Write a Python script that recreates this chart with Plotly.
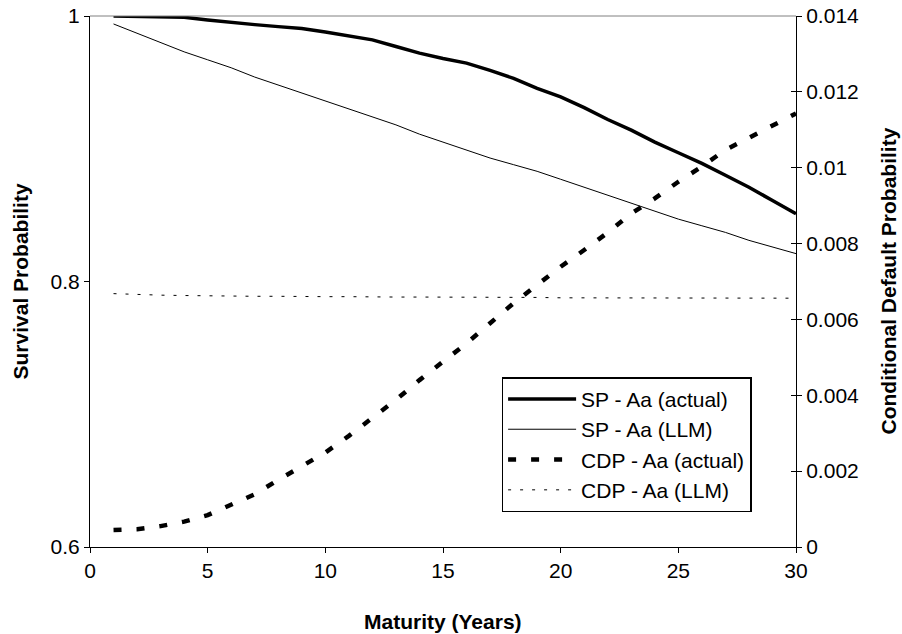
import plotly.graph_objects as go

years = list(range(1, 31))

sp_actual = [1.000, 0.9995, 0.9993, 0.999, 0.997, 0.995, 0.9935, 0.992, 0.9905, 0.988,
             0.985, 0.982, 0.977, 0.972, 0.968, 0.9645, 0.959, 0.953, 0.9455, 0.939,
             0.931, 0.922, 0.914, 0.905, 0.897, 0.889, 0.880, 0.871, 0.861, 0.851]

sp_llm = [0.994, 0.987, 0.980, 0.973, 0.967, 0.961, 0.954, 0.948, 0.942, 0.936,
          0.930, 0.924, 0.918, 0.911, 0.905, 0.899, 0.893, 0.888, 0.883, 0.877,
          0.871, 0.865, 0.859, 0.853, 0.847, 0.842, 0.837, 0.831, 0.826, 0.821]

cdp_actual = [0.00045, 0.00047, 0.00055, 0.00067, 0.00084, 0.00110, 0.00139, 0.00177, 0.00212, 0.00249,
              0.00293, 0.00339, 0.00388, 0.00440, 0.00489, 0.00537, 0.00590, 0.00643, 0.00691, 0.00739,
              0.00783, 0.00829, 0.00879, 0.00919, 0.00963, 0.01003, 0.01047, 0.01080, 0.01113, 0.01143]

cdp_llm = [0.00668, 0.00665, 0.00664, 0.00663, 0.00662, 0.00662, 0.00661, 0.00661, 0.00660, 0.00660,
           0.00660, 0.00659, 0.00659, 0.00659, 0.00659, 0.00658, 0.00658, 0.00658, 0.00658, 0.00657,
           0.00657, 0.00657, 0.00657, 0.00657, 0.00656, 0.00656, 0.00656, 0.00656, 0.00656, 0.00656]

series_names = ["SP - Aa (actual)", "SP - Aa (LLM)", "CDP - Aa (actual)", "CDP - Aa (LLM)"]

x_ticks = [0, 5, 10, 15, 20, 25, 30]
left_ticks = [0.6, 0.8, 1.0]
left_labels = ["0.6", "0.8", "1"]
right_ticks = [0, 0.002, 0.004, 0.006, 0.008, 0.01, 0.012, 0.014]
right_labels = ["0", "0.002", "0.004", "0.006", "0.008", "0.01", "0.012", "0.014"]

FONT = "Liberation Sans, Arial, sans-serif"

fig = go.Figure()
fig.add_trace(go.Scatter(x=years, y=sp_actual, name=series_names[0], mode="lines",
                         line=dict(color="black", width=3.5), yaxis="y"))
fig.add_trace(go.Scatter(x=years, y=sp_llm, name=series_names[1], mode="lines",
                         line=dict(color="black", width=1), yaxis="y"))
fig.add_trace(go.Scatter(x=years, y=cdp_actual, name=series_names[2], mode="lines",
                         line=dict(color="black", width=4.5, dash="8px,15px"), yaxis="y2"))
fig.add_trace(go.Scatter(x=years, y=cdp_llm, name=series_names[3], mode="lines",
                         line=dict(color="black", width=1, dash="3px,9px"), yaxis="y2"))
# invisible helper trace so the inside-tick overlay axis is drawn
fig.add_trace(go.Scatter(x=[years[0]], y=[cdp_llm[0]], yaxis="y3", mode="markers",
                         marker=dict(opacity=0), showlegend=False, hoverinfo="skip"))

fig.update_layout(
    template="none",
    width=902, height=634,
    margin=dict(l=90, r=106, t=16, b=87, autoexpand=False),
    paper_bgcolor="white", plot_bgcolor="white",
    font=dict(family=FONT, size=21, color="black"),
    showlegend=True,
    legend=dict(x=0.583, y=0.3196, xanchor="left", yanchor="top",
                bgcolor="white", bordercolor="black", borderwidth=1.5,
                font=dict(family=FONT, size=21, color="black"),
                tracegroupgap=0, itemwidth=68),
    xaxis=dict(range=[0, 30], tickvals=x_ticks, ticks="outside", ticklen=5,
               tickcolor="black", showline=True, linecolor="black", linewidth=1,
               showgrid=False, zeroline=False, automargin=False, tickfont=dict(size=21)),
    yaxis=dict(range=[0.6, 1.0], tickvals=left_ticks, ticktext=left_labels,
               ticks="outside", ticklen=5, tickcolor="black", showline=True,
               linecolor="black", linewidth=1, showgrid=False, zeroline=False,
               automargin=False, tickfont=dict(size=21)),
    yaxis2=dict(range=[0, 0.014], tickvals=right_ticks, ticktext=right_labels,
                overlaying="y", side="right", ticks="outside", ticklen=5,
                tickcolor="black", showline=True, linecolor="black", linewidth=1,
                showgrid=False, zeroline=False, automargin=False, tickfont=dict(size=21)),
    yaxis3=dict(range=[0, 0.014], tickvals=right_ticks, overlaying="y", side="right",
                anchor="x", ticks="inside", ticklen=5, tickcolor="black",
                showticklabels=False, showline=False, showgrid=False, zeroline=False,
                automargin=False),
    shapes=[dict(type="line", xref="paper", yref="paper", x0=0, x1=1, y0=1, y1=1,
                 line=dict(color="#808080", width=1))],
    annotations=[
        dict(text="<b>Survival Probability</b>", xref="paper", yref="paper",
             x=0, y=0.5, xanchor="center", yanchor="middle", xshift=-70,
             textangle=-90, showarrow=False, font=dict(size=21)),
        dict(text="<b>Conditional Default Probability</b>", xref="paper", yref="paper",
             x=1, y=0.5, xanchor="center", yanchor="middle", xshift=92,
             textangle=-90, showarrow=False, font=dict(size=21)),
        dict(text="<b>Maturity (Years)</b>", xref="paper", yref="paper",
             x=0.5, y=0, xanchor="center", yanchor="middle", yshift=-74,
             showarrow=False, font=dict(size=21)),
    ],
)

fig.write_html("out.html",
               config={"displayModeBar": False},
               post_script="document.body.style.margin='0';document.body.style.overflow='hidden';")
